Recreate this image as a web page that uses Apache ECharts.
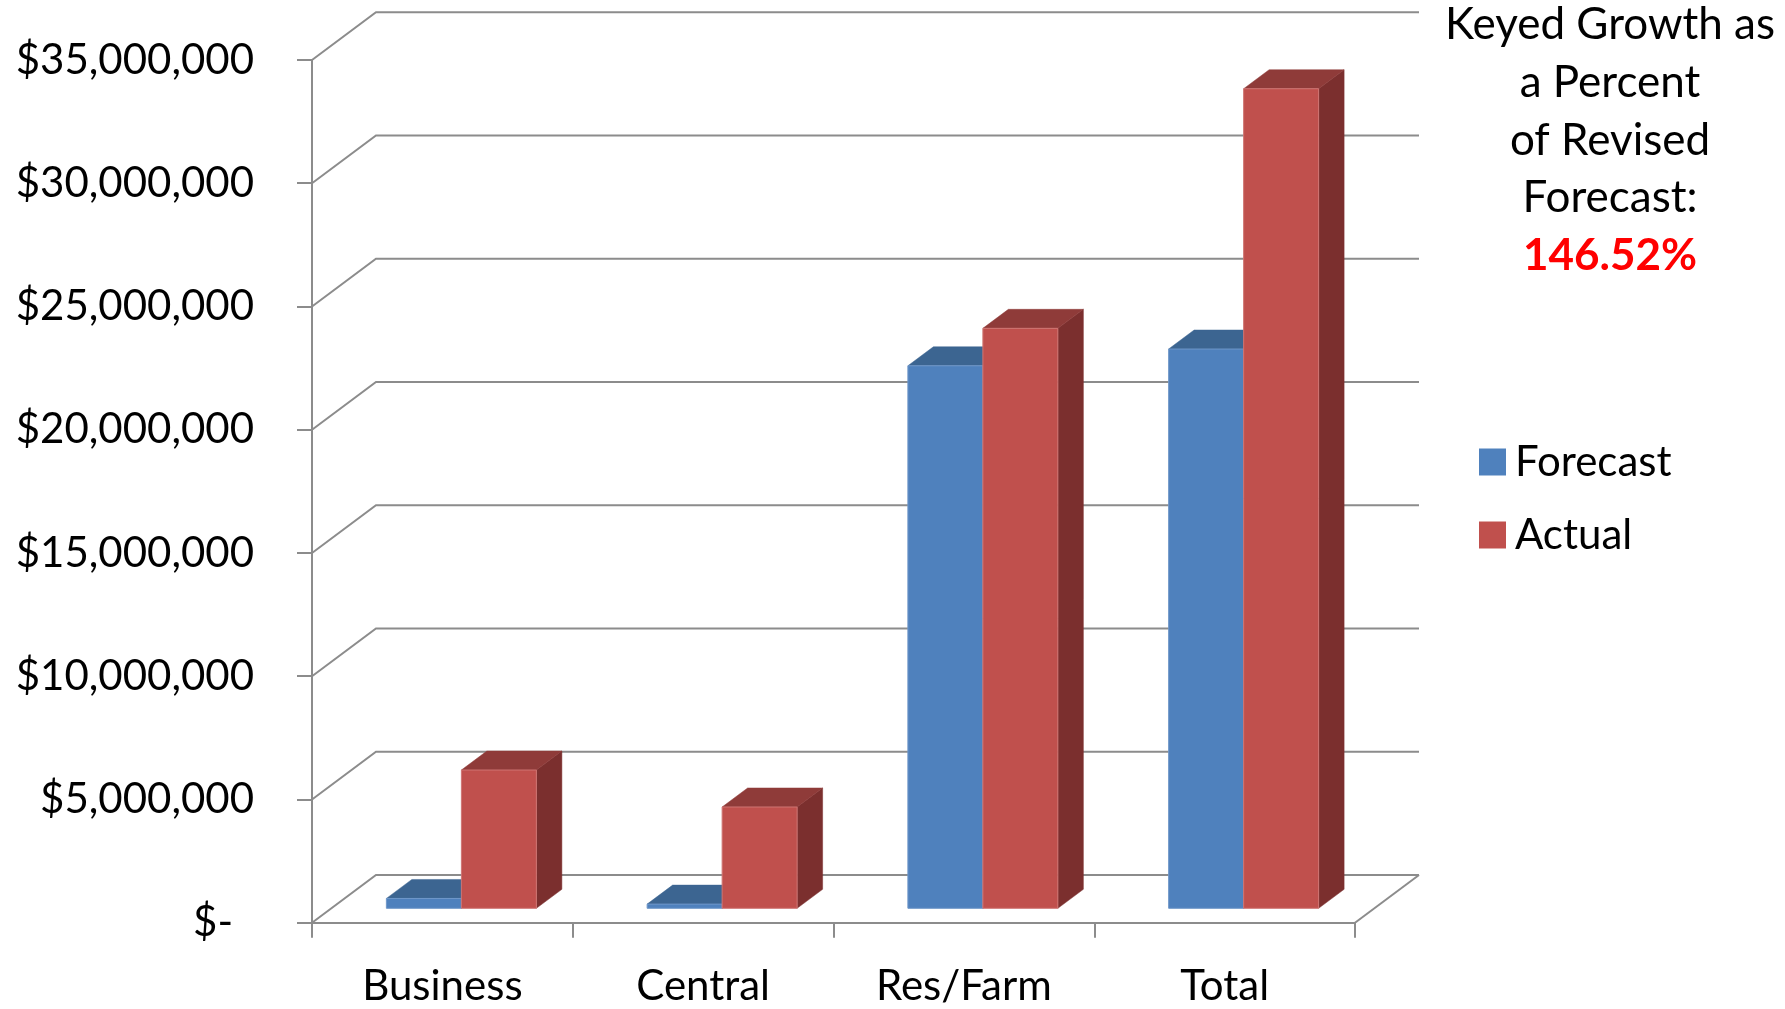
<!DOCTYPE html>
<html>
<head>
<meta charset="utf-8">
<script src="https://cdn.jsdelivr.net/npm/echarts@6/dist/echarts.min.js"></script>
<style>
html,body{margin:0;padding:0;background:#fff;}
#chart{width:1785px;height:1009px;}
</style>
</head>
<body>
<div id="chart"></div>
<script>
// ---- data ----
var categories = ['Business', 'Central', 'Res/Farm', 'Total'];
var forecast = [400000, 170000, 22010000, 22690000];
var actual = [5610000, 4110000, 23530000, 33250000];
var yTicks = [0, 5000000, 10000000, 15000000, 20000000, 25000000, 30000000, 35000000];
var yTickLabels = ['$-', '$5,000,000', '$10,000,000', '$15,000,000', '$20,000,000', '$25,000,000', '$30,000,000', '$35,000,000'];
var noteLines = ['Keyed Growth as', 'a Percent', 'of Revised', 'Forecast:'];
var noteValue = '146.52%';

// ---- styling (pixels) ----
var FONT = 'Lato';
var WALL_DX = 64, WALL_DY = -47.7;     // depth of the chart box
var BAR_OX = 19, BAR_OY = -14.4;       // bars sit inside the box
var BAR_DX = 25.5, BAR_DY = -19;       // depth of each bar
var BAR_FRAC = 0.2876;                 // bar width as fraction of band
var GRID_COLOR = '#8c8c8c';
var palette = [
  {front: '#4F81BD', top: '#3C6591', side: '#385D8A', edge: '#6f97c9'},
  {front: '#C0504D', top: '#8F3B39', side: '#7B2F2E', edge: '#cf7573'}
];

var chart = echarts.init(document.getElementById('chart'), null, {renderer: 'canvas'});

function wallItem(params, api) {
  var v = api.value(0);
  var y = api.coord([0, v])[1];
  var cs = params.coordSys;
  var x0 = cs.x, x1 = cs.x + cs.width;
  var children = [{
    type: 'polyline',
    shape: {points: [[x0, y], [x0 + WALL_DX, y + WALL_DY], [x1 + WALL_DX, y + WALL_DY]]},
    style: {stroke: GRID_COLOR, lineWidth: 2, fill: null}
  }];
  if (v === 0) {
    children.push({
      type: 'line',
      shape: {x1: x1, y1: y, x2: x1 + WALL_DX, y2: y + WALL_DY},
      style: {stroke: GRID_COLOR, lineWidth: 2}
    });
  }
  return {type: 'group', children: children};
}

function barRenderer(s) {
  return function (params, api) {
    var idx = api.value(0), val = api.value(1);
    var base = api.coord([idx, 0]);
    var top = api.coord([idx, val]);
    var band = api.size([1, 0])[0];
    var w = band * BAR_FRAC;
    var L = base[0] - w + s * w + BAR_OX;
    var R = L + w;
    var T = top[1] + BAR_OY;
    var B = base[1] + BAR_OY;
    var c = palette[s];
    return {
      type: 'group',
      children: [
        {type: 'polygon', shape: {points: [[R, T], [R + BAR_DX, T + BAR_DY], [R + BAR_DX, B + BAR_DY], [R, B]]},
          style: {fill: c.side, stroke: c.side, lineWidth: 0.5}},
        {type: 'polygon', shape: {points: [[L, T], [L + BAR_DX, T + BAR_DY], [R + BAR_DX, T + BAR_DY], [R, T]]},
          style: {fill: c.top, stroke: c.top, lineWidth: 0.5}},
        {type: 'rect', shape: {x: L, y: T, width: w, height: B - T},
          style: {fill: c.front, stroke: c.edge, lineWidth: 1}}
      ]
    };
  };
}

var titleText = noteLines.join('\n') + '\n{r|' + noteValue + '}';

var option = {
  backgroundColor: '#fff',
  animation: false,
  title: {
    text: titleText,
    left: 1610,
    top: -4,
    textAlign: 'center',
    padding: 0,
    textStyle: {
      fontFamily: FONT, fontSize: 44, fontWeight: 'normal', color: '#000', lineHeight: 57.8,
      align: 'center',
      rich: {r: {fontFamily: FONT, fontSize: 44, fontWeight: 'bold', color: '#FF0000', lineHeight: 57.8}}
    }
  },
  legend: {
    orient: 'vertical',
    left: 1474,
    top: 436,
    itemWidth: 27,
    itemHeight: 27,
    itemGap: 31,
    icon: 'rect',
    data: ['Forecast', 'Actual'],
    textStyle: {fontFamily: FONT, fontSize: 42, color: '#000', padding: [0, 0, 0, 4]}
  },
  grid: {left: 312, top: 60, width: 1043, height: 862.7, containLabel: false},
  xAxis: {
    type: 'category',
    data: categories,
    boundaryGap: true,
    axisLine: {show: true, lineStyle: {color: GRID_COLOR, width: 2}},
    axisTick: {show: true, length: 15, lineStyle: {color: GRID_COLOR, width: 2}},
    axisLabel: {fontFamily: FONT, fontSize: 42, color: '#000', margin: 43},
    splitLine: {show: false}
  },
  yAxis: {
    type: 'value',
    min: 0, max: 35000000, interval: 5000000,
    axisLine: {show: true, lineStyle: {color: GRID_COLOR, width: 2}},
    axisTick: {show: true, length: 15, lineStyle: {color: GRID_COLOR, width: 2}},
    splitLine: {show: false},
    axisLabel: {
      fontFamily: FONT, fontSize: 42, color: '#000', margin: 58,
      formatter: function (v) {
        var i = yTicks.indexOf(v);
        var s = i >= 0 ? yTickLabels[i] : '';
        return v === 0 ? '{z|' + s + '}' : s;
      },
      rich: {z: {fontFamily: FONT, fontSize: 42, color: '#000', padding: [0, 21, 0, 0]}}
    }
  },
  series: [
    {
      type: 'custom', name: 'walls', silent: true, z: 1,
      renderItem: wallItem,
      data: yTicks.map(function (v) { return [v]; }),
      encode: {y: 0}
    },
    {
      type: 'custom', name: 'Forecast', z: 3,
      itemStyle: {color: palette[0].front},
      renderItem: barRenderer(0),
      data: forecast.map(function (v, i) { return [i, v]; }),
      encode: {x: 0, y: 1}
    },
    {
      type: 'custom', name: 'Actual', z: 4,
      itemStyle: {color: palette[1].front},
      renderItem: barRenderer(1),
      data: actual.map(function (v, i) { return [i, v]; }),
      encode: {x: 0, y: 1}
    }
  ]
};
chart.setOption(option);
</script>
</body>
</html>
